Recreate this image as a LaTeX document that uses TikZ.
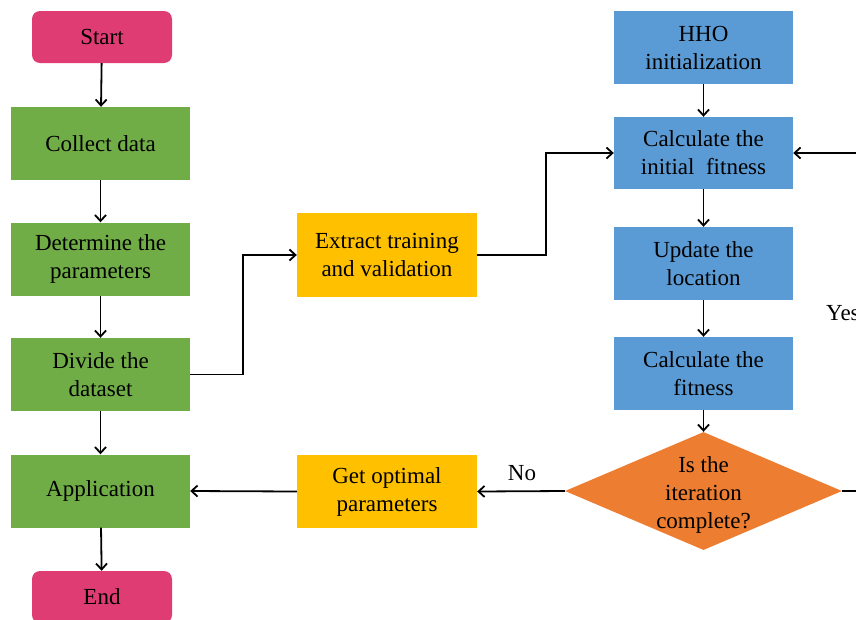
\documentclass[tikz,border=0pt]{standalone}
\usepackage{fontspec}
\newfontfamily\tnrfont{LiberationSerif}[Extension=.ttf, UprightFont=*-Regular, BoldFont=*-Bold]
\usetikzlibrary{shapes.geometric,arrows.meta}
\definecolor{cpink}{HTML}{E03C74}
\definecolor{cgreen}{HTML}{70AD47}
\definecolor{cgold}{HTML}{FFC000}
\definecolor{cblue}{HTML}{5B9BD5}
\definecolor{corange}{HTML}{ED7D31}
\begin{document}
\begin{tikzpicture}[x=1pt,y=-1pt,
  box/.style={rectangle, minimum width=179pt, minimum height=73pt, align=center, inner sep=0pt, font=\tnrfont\fontsize{23}{28}\selectfont, text=black},
  term/.style={box, fill=cpink, rounded corners=8pt, minimum width=140pt, minimum height=52pt},
  gbox/.style={box, fill=cgreen},
  ybox/.style={box, fill=cgold, minimum width=180pt},
  bbox/.style={box, fill=cblue},
  dec/.style={diamond, fill=corange, minimum width=277pt, minimum height=118pt, inner sep=0pt},
  lbl/.style={font=\tnrfont\fontsize{23}{28}\selectfont, align=center, inner sep=0pt, text=black},
  arr/.style={-{Straight Barb[length=6pt,width=11pt]}, line width=1.8pt}
]
\clip (0,0) rectangle (856,619);
\fill[white] (0,0) rectangle (856,619);
% left column
\node[term] (start) at (102,37) {Start};
\node[gbox] (collect) at (100.5,143.5) {Collect data};
\node[gbox] (determine) at (100.5,259) {Determine the\\parameters};
\node[gbox] (divide) at (100.5,374.5) {Divide the\\dataset};
\node[gbox] (app) at (100.5,491) {Application};
\node[term] (end) at (102,597) {End};
% middle column
\node[ybox, minimum height=84pt] (extract) at (387,255) {Extract training\\and validation};
\node[ybox] (getopt) at (387,491.5) {Get optimal\\parameters};
% right column
\node[bbox] (hho) at (703.5,47.5) {HHO\\initialization};
\node[bbox, minimum height=72pt] (calcinit) at (703.5,153) {Calculate the\\initial\ \ fitness};
\node[bbox] (update) at (703.5,263.5) {Update the\\location};
\node[bbox] (calcfit) at (703.5,373.5) {Calculate the\\fitness};
\node[dec] (iter) at (703.5,491) {};
\node[lbl] (itertext) at (703.5,495) {Is the\\iteration\\complete?};
\node[lbl] (no) at (522,473) {No};
\node[lbl, anchor=west] (yes) at (826,313) {Yes};
% connectors
\draw[arr] (start) -- (collect);
\draw[arr] (collect) -- (determine);
\draw[arr] (determine) -- (divide);
\draw[arr] (divide) -- (app);
\draw[arr] (app) -- (end);
\draw[arr] (divide.east) -- ++(53,0) |- (extract.west);
\draw[arr] (extract.east) -- ++(69,0) |- (calcinit.west);
\draw[arr] (hho) -- (calcinit);
\draw[arr] (calcinit) -- (update);
\draw[arr] (update) -- (calcfit);
\draw[arr] (calcfit) -- (iter.north);
\draw[arr] (iter.west) -- (getopt.east);
\draw[arr] (getopt.west) -- (app.east);
\draw[arr] (iter.east) -- ++(40,0) coordinate (rturn) |- (calcinit.east);
\end{tikzpicture}
\end{document}
